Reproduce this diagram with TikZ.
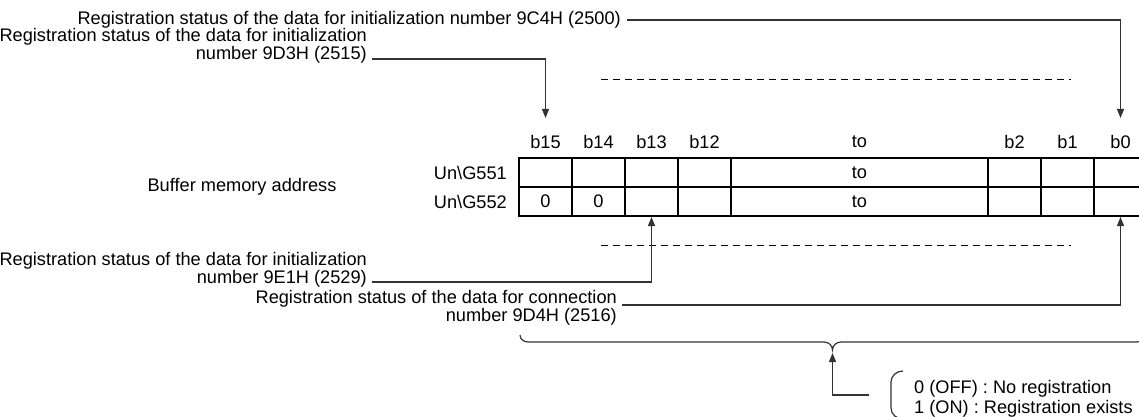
\documentclass[tikz,border=0pt]{standalone}
\usepackage{fontspec}
\setmainfont{Liberation Sans}
\usetikzlibrary{arrows.meta}
\begin{document}
\begin{tikzpicture}[x=1pt,y=-1pt,
  lbl/.style={inner sep=0pt,font=\fontsize{18.2}{17.5}\selectfont,align=right},
  txt/.style={inner sep=0pt,font=\fontsize{18.2}{17.5}\selectfont},
  conn/.style={line width=1.2pt,draw=black!80},
  arr/.style={conn,-{Triangle[length=9pt,width=7pt]}},
  grid/.style={line width=2pt},
  dsh/.style={line width=1pt,dash pattern=on 7pt off 5pt}]
\useasboundingbox (0,0) rectangle (1139,417);
% top labels
\node[lbl,anchor=east] (L1) at (621,20) {Registration status of the data for initialization number 9C4H (2500)};
\node[lbl,anchor=east] (L2) at (367,46) {Registration status of the data for initialization\\number 9D3H (2515)};
% header labels
\node[txt] (h15) at (545.5,142) {b15};
\node[txt] (h14) at (598.5,142) {b14};
\node[txt] (h13) at (651.5,142) {b13};
\node[txt] (h12) at (704.5,142) {b12};
\node[txt] (hto) at (859.5,142) {to};
\node[txt] (h2) at (1014.5,142) {b2};
\node[txt] (h1) at (1067.5,142) {b1};
\node[txt] (h0) at (1120.5,142) {b0};
% arrows from top
\coordinate (t15) at (545.5,118);
\coordinate (t0) at (1120.5,118);
\coordinate (s1) at ([xshift=6pt]L1.east);
\draw[arr] (s1) -| (t0);
\coordinate (s2) at ([xshift=5pt]L2.east |- 0,59);
\draw[arr] (s2) -| (t15);
% dashed lines
\coordinate (d1a) at (601,80); \coordinate (d1b) at (1071,80);
\coordinate (d2a) at (601,245); \coordinate (d2b) at (1071,245);
\draw[dsh] (d1a) -- (d1b);
\draw[dsh] (d2a) -- (d2b);
% table
\draw[grid] (1147,158) -- (519,158) -- (519,216) -- (1147,216);
\draw[grid] (519,187) -- (1147,187);
\foreach \x in {572,625,678,731,988,1041,1094}{\draw[grid] (\x,158) -- (\x,216);}
\node[txt,anchor=east] (r1) at (507,172.5) {Un\textbackslash G551};
\node[txt,anchor=east] (r2) at (507,201.5) {Un\textbackslash G552};
\node[txt] (c1) at (859.5,172.5) {to};
\node[txt] (c2) at (859.5,201.5) {to};
\node[txt] (z1) at (545.5,201.5) {0};
\node[txt] (z2) at (598.5,201.5) {0};
\node[txt] (bma) at (242,187) {Buffer memory address};
% lower labels
\node[lbl,anchor=east] (L3) at (367,270) {Registration status of the data for initialization\\number 9E1H (2529)};
\node[lbl,anchor=east] (L4) at (617,308) {Registration status of the data for connection\\number 9D4H (2516)};
\coordinate (b13) at (651.5,217);
\coordinate (b0) at (1120.5,217);
\coordinate (s3) at ([xshift=5pt]L3.east |- 0,282);
\coordinate (s4) at ([xshift=5pt]L4.east |- 0,305);
\draw[arr] (s3) -| (b13);
\draw[arr] (s4) -| (b0);
% brace
\coordinate (bl) at (520,335);
\coordinate (bt) at (832.5,350);
\coordinate (br) at (1145,335);
\draw[line width=1.2pt,draw=black!80] (bl) to[out=270,in=180] (528,342) -- (824,342) to[out=0,in=90] (bt)
  to[out=90,in=180] (841,342) -- (1137,342) to[out=0,in=270] (br);
% legend arrow
\coordinate (lg) at (832.5,395);
\coordinate (lge) at (869,395);
\draw[arr] (lge) -- (lg) -- (832.5,353);
% bracket
\draw[line width=1.2pt,draw=black!80] (903,371) to[out=180,in=90] (891,382) -- (891,408) to[out=270,in=180] (903,419);
\node[txt,anchor=west] (o0) at (914,389) {0 (OFF) : No registration};
\node[txt,anchor=west] (o1) at (914,409) {1 (ON) : Registration exists};
\end{tikzpicture}
\end{document}
